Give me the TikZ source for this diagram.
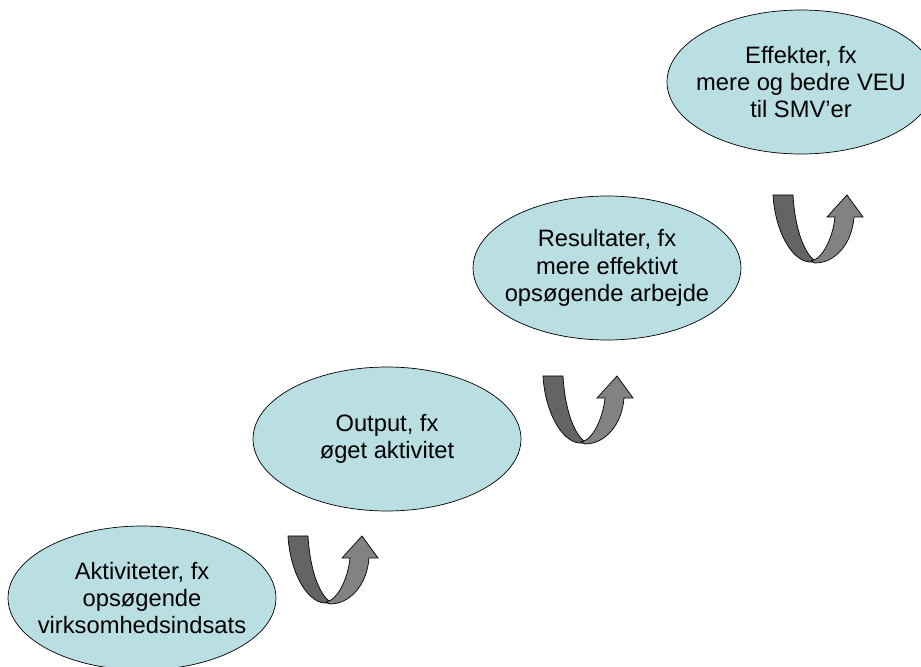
\documentclass[tikz,border=0pt]{standalone}
\usepackage{fontspec}
\setmainfont{Liberation Sans}
\usepackage{xcolor}
\usepackage{tikz}
\usetikzlibrary{shapes.geometric}
\definecolor{stagefill}{RGB}{185,223,227}
\definecolor{turndark}{RGB}{100,100,100}
\definecolor{turnlight}{RGB}{130,130,130}
\tikzset{
	stage/.style={
			ellipse, draw, fill=stagefill, inner xsep=-8pt, inner ysep=0pt, align=center,
			minimum width=5.36cm, minimum height=2.88cm,
			font=\fontsize{13.5}{15.5}\selectfont
		},
	uturn/.pic={
			\draw [fill=turndark] (-42,67) -- (-22,67) .. controls (-20,32) and (-10,6) .. (2,0) -- (-6,0) .. controls (-24,2) and (-40,32) .. cycle;
			\draw [fill=turnlight] (-4,1) .. controls (8,3) and (18,25) .. (20,45) -- (12,45) -- (32,67) -- (48,45) -- (39,45) .. controls (37,18) and (20,-1) .. (0,-1) -- cycle;
		}
}
\begin{document}
\begin{tikzpicture}[x=0.02cm, y=0.02cm]
    \useasboundingbox (0,0) rectangle (921,667);
    \node (activities) [stage] at (142,69) {Aktiviteter, fx\\opsøgende\\virksomhedsindsats};
    \node (output) [stage] at (387,228) {Output, fx\\øget aktivitet};
    \node (results) [stage] at (607,399) {Resultater, fx\\mere effektivt\\opsøgende arbejde};
    \node (effects) [stage] at (801,585) {Effekter, fx\\mere og bedre VEU\\til SMV'er};
    \pic at (330,64) {uturn};
    \pic at (585,224) {uturn};
    \pic at (815,405) {uturn};
\end{tikzpicture}
\end{document}
